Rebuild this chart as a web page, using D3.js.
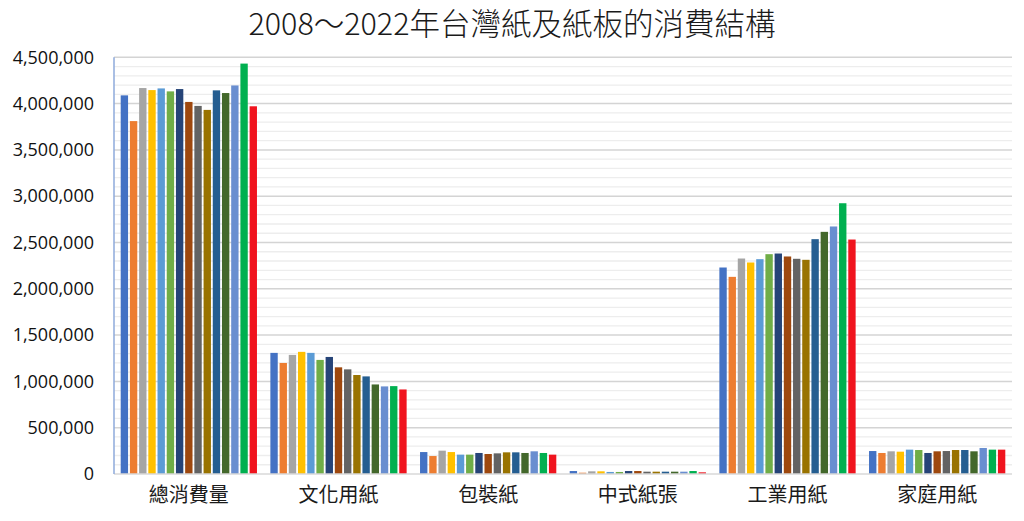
<!DOCTYPE html>
<html>
<head>
<meta charset="utf-8">
<script src="https://cdn.jsdelivr.net/npm/d3@7/dist/d3.min.js"></script>
<style>
  body { margin: 0; background: #fff; }
  svg { display: block; }
</style>
</head>
<body>
<div id="g1"></div>
<script>
// 資料：各年度 (2008~2022) 各類紙的消費量
var categories = ["總消費量", "文化用紙", "包裝紙", "中式紙張", "工業用紙", "家庭用紙"];
var years = ["2008","2009","2010","2011","2012","2013","2014","2015","2016","2017","2018","2019","2020","2021","2022"];

var total    = [4089000, 3811000, 4168000, 4146000, 4164000, 4132000, 4157000, 4018000, 3975000, 3932000, 4143000, 4114000, 4196000, 4432000, 3971000];
var culture  = [1308000, 1199000, 1286000, 1319000, 1308000, 1232000, 1264000, 1152000, 1130000, 1069000, 1054000, 967000, 946000, 949000, 913000];
var packing  = [237000, 194000, 252000, 237000, 209000, 209000, 227000, 216000, 223000, 234000, 234000, 227000, 245000, 227000, 209000];
var chinese  = [32000, 14000, 29000, 29000, 22000, 22000, 32000, 32000, 25000, 25000, 25000, 25000, 25000, 32000, 18000];
var industry = [2230000, 2129000, 2327000, 2284000, 2320000, 2374000, 2381000, 2349000, 2324000, 2313000, 2536000, 2615000, 2673000, 2924000, 2532000];
var household= [248000, 227000, 245000, 241000, 263000, 259000, 227000, 245000, 248000, 259000, 259000, 245000, 281000, 263000, 263000];

var yTicks = [0, 500000, 1000000, 1500000, 2000000, 2500000, 3000000, 3500000, 4000000, 4500000];

var colors = ["#4472C4","#ED7D31","#A5A5A5","#FFC000","#5B9BD5","#70AD47","#264478","#9E480E",
              "#636363","#997300","#255E91","#43682B","#698ED0","#00B050","#F0141E"];

var series = [total, culture, packing, chinese, industry, household];
var data = categories.map(function(c, i) {
  return { cat: c, values: series[i] };
});

var w = 1024, h = 521;
var plotLeft = 114, plotRight = 1012, plotTop = 57.3, plotBottom = 474;

var svg = d3.select("#g1").append("svg").attr("width", w).attr("height", h);

var y = d3.scaleLinear().domain([0, 4500000]).range([plotBottom, plotTop]);
var x0 = d3.scaleBand().domain(categories).range([plotLeft, plotRight]).padding(0);
var inset = 6.7;
var x1 = d3.scaleBand().domain(years).range([inset, x0.bandwidth() - inset]).paddingInner(0.2).paddingOuter(0);

// 格線 (次要每 100,000，主要每 500,000)
svg.append("g").selectAll("line")
    .data(d3.range(100000, 4500001, 100000).filter(function(v){ return v % 500000 != 0; }))
    .enter().append("line")
    .attr("x1", plotLeft).attr("x2", plotRight)
    .attr("y1", function(d){ return y(d); }).attr("y2", function(d){ return y(d); })
    .style("stroke", "#ededed").style("stroke-width", "1.3px");

svg.append("g").selectAll("line")
    .data(yTicks.slice(1))
    .enter().append("line")
    .attr("x1", plotLeft).attr("x2", plotRight)
    .attr("y1", function(d){ return y(d); }).attr("y2", function(d){ return y(d); })
    .style("stroke", "#d4d4d4").style("stroke-width", "1.5px");

// 長條
var groups = svg.append("g").selectAll("g")
    .data(data)
    .enter().append("g")
    .attr("transform", function(d){ return "translate(" + x0(d.cat) + ",0)"; });

groups.selectAll("rect")
    .data(function(d){ return d.values; })
    .enter().append("rect")
    .attr("x", function(d, i){ return x1(years[i]); })
    .attr("y", function(d){ return y(d); })
    .attr("width", x1.bandwidth())
    .attr("height", function(d){ return plotBottom - y(d); })
    .style("fill", function(d, i){ return colors[i]; });

// 軸線
svg.append("line").attr("x1", plotLeft).attr("x2", plotRight).attr("y1", plotBottom).attr("y2", plotBottom)
    .style("stroke", "#d9d9d9").style("stroke-width", "1.5px");
svg.append("line").attr("x1", plotLeft).attr("x2", plotLeft).attr("y1", plotTop).attr("y2", plotBottom)
    .style("stroke", "#8eaadb").style("stroke-width", "1.5px");

// Y 軸
var yAxis = d3.axisLeft(y).tickValues(yTicks).tickSize(0).tickPadding(20)
    .tickFormat(d3.format(","));
var gy = svg.append("g").attr("transform", "translate(" + plotLeft + ",0)").call(yAxis);
gy.select(".domain").remove();
gy.selectAll("text")
    .style("font-family", "'Open Sans', 'Noto Sans', sans-serif")
    .style("font-size", "18px")
    .style("fill", "#111");

// X 軸
var xAxis = d3.axisBottom(x0).tickSize(0).tickPadding(14);
var gx = svg.append("g").attr("transform", "translate(0," + plotBottom + ")").call(xAxis);
gx.select(".domain").remove();
gx.selectAll("text")
    .style("font-family", "'Noto Sans CJK TC', sans-serif")
    .style("font-size", "20px")
    .style("fill", "#1a1a1a");

// 標題
svg.append("text")
    .attr("x", 512).attr("y", 35)
    .attr("text-anchor", "middle")
    .style("font-family", "'Noto Sans CJK TC', sans-serif")
    .style("font-weight", "300")
    .style("font-size", "30.5px")
    .style("fill", "#1a1a1a")
    .text("2008～2022年台灣紙及紙板的消費結構");
</script>
</body>
</html>
